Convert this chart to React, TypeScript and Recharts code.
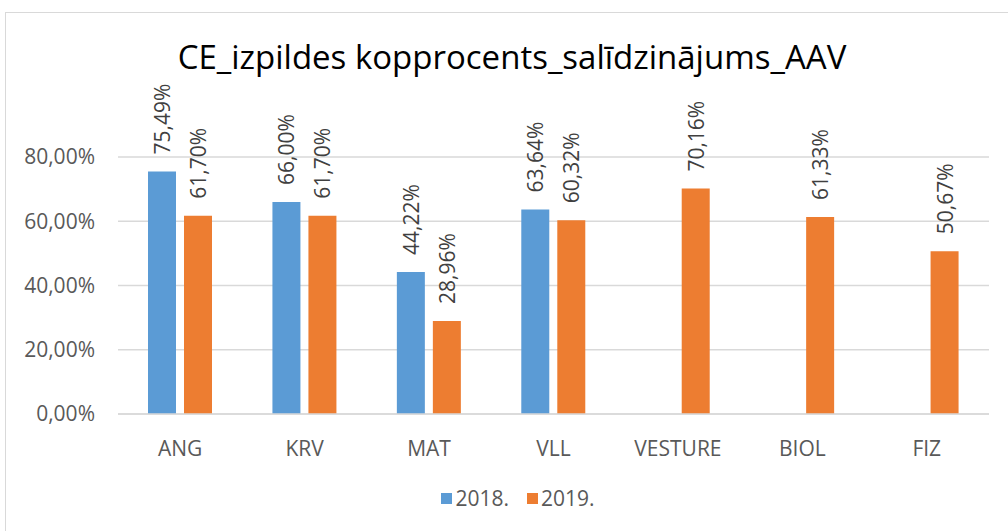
import React from "react";
import { BarChart, Bar, XAxis, YAxis, CartesianGrid, Legend, LabelList } from "recharts";

const categories = ["ANG", "KRV", "MAT", "VLL", "VESTURE", "BIOL", "FIZ"];
const values2018 = [75.49, 66.0, 44.22, 63.64, null, null, null];
const values2019 = [61.7, 61.7, 28.96, 60.32, 70.16, 61.33, 50.67];
const yTicks = [0, 20, 40, 60, 80];
const seriesNames = ["2018.", "2019."];
const colors = ["#5B9BD5", "#ED7D31"];

const FONT = "'Open Sans', 'Noto Sans', sans-serif";

const data = categories.map((c, i) => ({ name: c, a: values2018[i], b: values2019[i] }));

const pct = (v: number) => v.toFixed(2).replace(".", ",") + "%";

// vertical value label above each bar
const VLabel = (props: any) => {
    const { x, y, width, value } = props;
    if (value == null) return null;
    const cx = Number(x) + Number(width) / 2;
    const cy = Number(y) - 17;
    return (
        <text x={cx} y={cy} transform={`rotate(-90 ${cx} ${cy})`} textAnchor="start" dominantBaseline="central"
            fill="#404040" fontSize={21} fontFamily={FONT}>
            {pct(value)}
        </text>
    );
};

const LegendBox = () => (
    <div style={{ display: "flex", justifyContent: "center", alignItems: "center", height: 30, fontFamily: FONT, fontSize: 21, color: "#595959", paddingLeft: 28 }}>
        {seriesNames.map((n, i) => (
            <span key={n} style={{ display: "flex", alignItems: "center", marginRight: i === 0 ? 18 : 0 }}>
                <span style={{ width: 11, height: 11, background: colors[i], marginRight: 3, display: "inline-block" }} />
                {n}
            </span>
        ))}
    </div>
);

export default function App() {
    return (
        <div style={{ position: "absolute", left: 0, top: 0, width: 1008, height: 531, overflow: "hidden", background: "#fff", fontFamily: FONT }}>
            <div style={{ position: "absolute", left: 5, top: 12, width: 1100, height: 600, border: "1px solid #D9D9D9" }} />
            <div style={{ position: "absolute", left: 0, width: 1024, top: 36, lineHeight: "42px", textAlign: "center", fontSize: 33, color: "#000" }}>
                CE_izpildes kopprocents_salīdzinājums_AAV
            </div>
            <div style={{ position: "absolute", left: 0, top: 0 }}>
                <BarChart width={1008} height={531} data={data} margin={{ top: 157, right: 19, left: 18, bottom: 37 }} barSize={28} barGap={8}>
                    <CartesianGrid vertical={false} stroke="#D9D9D9" strokeWidth={1.5} />
                    <XAxis dataKey="name" height={50} tickSize={0} tickMargin={27} axisLine={{ stroke: "#D9D9D9", strokeWidth: 1.5 }} tickLine={false}
                        tick={{ fill: "#595959", fontSize: 21, fontFamily: FONT }} interval={0} />
                    <YAxis width={100} domain={[0, 80]} ticks={yTicks} tickFormatter={pct} axisLine={false} tickLine={false} tickSize={0} tickMargin={23}
                        tick={{ fill: "#595959", fontSize: 21, fontFamily: FONT }} />
                    <Legend verticalAlign="bottom" content={<LegendBox />} wrapperStyle={{ top: 483, bottom: "auto", left: 0, width: 1008, height: 30 }} />
                    <Bar dataKey="a" name={seriesNames[0]} fill={colors[0]} isAnimationActive={false}>
                        <LabelList dataKey="a" content={<VLabel />} />
                    </Bar>
                    <Bar dataKey="b" name={seriesNames[1]} fill={colors[1]} isAnimationActive={false}>
                        <LabelList dataKey="b" content={<VLabel />} />
                    </Bar>
                </BarChart>
            </div>
        </div>
    );
}
